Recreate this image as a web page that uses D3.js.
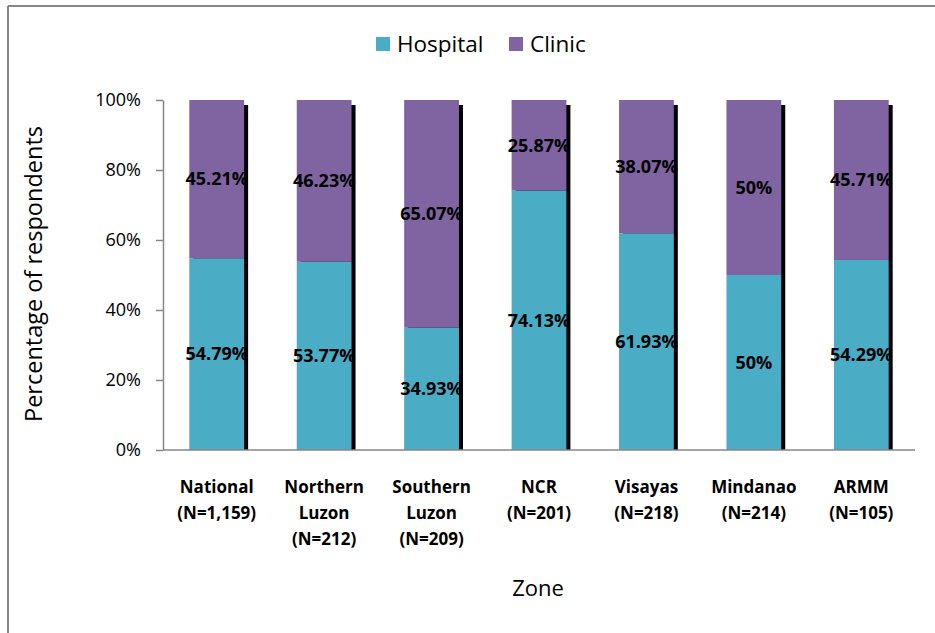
<!DOCTYPE html>
<html>
<head>
<meta charset="utf-8">
<script src="https://cdn.jsdelivr.net/npm/d3@7"></script>
<style>
  body { margin: 0; background: #fff; }
  svg { display: block; font-family: "Open Sans", sans-serif; }
</style>
</head>
<body>
<svg width="935" height="633"></svg>
<script>
"use strict";

// zones, each with its sample size on the second label line
const zones = ["National", "Northern Luzon", "Southern Luzon", "NCR", "Visayas", "Mindanao", "ARMM"];
const zoneLines = [
  ["National", "(N=1,159)"],
  ["Northern", "Luzon", "(N=212)"],
  ["Southern", "Luzon", "(N=209)"],
  ["NCR", "(N=201)"],
  ["Visayas", "(N=218)"],
  ["Mindanao", "(N=214)"],
  ["ARMM", "(N=105)"]
];
const hospital = [54.79, 53.77, 34.93, 74.13, 61.93, 50, 54.29];
const clinic = [45.21, 46.23, 65.07, 25.87, 38.07, 50, 45.71];
const seriesNames = ["Hospital", "Clinic"];
const seriesColors = ["#4bacc6", "#8064a2"];
const yTicks = [0, 20, 40, 60, 80, 100];

var svg = d3.select("svg"),
    width = +svg.attr("width"),
    height = +svg.attr("height");

// outer frame (only top and left edges are visible)
svg.append("line").attr("x1", 8).attr("x2", width).attr("y1", 6).attr("y2", 6)
    .attr("stroke", "#878787").attr("stroke-width", 2);
svg.append("line").attr("x1", 8).attr("x2", 8).attr("y1", 6).attr("y2", height)
    .attr("stroke", "#878787").attr("stroke-width", 2);

var margin = {left: 163, right: 20, top: 100, bottom: 183};

var x = d3.scaleBand()
    .domain(zones)
    .range([margin.left, width - margin.right])
    .paddingInner(0.49)
    .paddingOuter(0.245);

var y = d3.scaleLinear()
    .domain([0, 100])
    .range([height - margin.bottom, margin.top]);

var data = zones.map(function(z, i) {
  return {zone: z, Hospital: hospital[i], Clinic: clinic[i]};
});
var stacked = d3.stack().keys(seriesNames)(data);

// black shadow behind each bar
svg.append("g").selectAll("rect")
    .data(data)
    .enter().append("rect")
    .attr("x", function(d) { return x(d.zone) + 4; })
    .attr("y", y(100) + 5)
    .attr("width", x.bandwidth())
    .attr("height", y(0) - y(100) - 5)
    .attr("fill", "#000");

var layers = svg.append("g").selectAll("g")
    .data(stacked)
    .enter().append("g")
    .attr("fill", function(d, i) { return seriesColors[i]; });

layers.selectAll("rect")
    .data(function(d) { return d; })
    .enter().append("rect")
    .attr("x", function(d) { return x(d.data.zone); })
    .attr("y", function(d) { return y(d[1]); })
    .attr("width", x.bandwidth())
    .attr("height", function(d) { return y(d[0]) - y(d[1]); });

// value labels
layers.selectAll("text")
    .data(function(d) { return d.map(function(v) { return {v: v, key: d.key}; }); })
    .enter().append("text")
    .attr("x", function(d) { return x(d.v.data.zone) + x.bandwidth() / 2; })
    .attr("y", function(d) { return (y(d.v[0]) + y(d.v[1])) / 2; })
    .attr("dy", "0.35em")
    .attr("text-anchor", "middle")
    .attr("fill", "#000")
    .style("font-weight", "bold")
    .style("font-size", "18px")
    .text(function(d) { return d.v.data[d.key] + "%"; });

// y axis
var yAxis = svg.append("g")
    .attr("transform", "translate(" + margin.left + ",0)")
    .call(d3.axisLeft(y).tickValues(yTicks).tickSize(7).tickSizeOuter(0)
      .tickFormat(function(d) { return d + "%"; }));
yAxis.select(".domain").attr("stroke", "#868686").attr("stroke-width", 1.5);
yAxis.selectAll(".tick line").attr("stroke", "#868686").attr("stroke-width", 1.5);
yAxis.selectAll(".tick text")
    .attr("x", -22)
    .style("font-size", "18px")
    .style("font-family", "'Open Sans', sans-serif")
    .attr("fill", "#000");

// x axis baseline
svg.append("line")
    .attr("x1", margin.left).attr("x2", width - margin.right)
    .attr("y1", y(0)).attr("y2", y(0))
    .attr("stroke", "#868686").attr("stroke-width", 1.5);

// category labels
var xl = svg.append("g").selectAll("text")
    .data(zones)
    .enter().append("text")
    .attr("text-anchor", "middle")
    .style("font-weight", "bold")
    .style("font-size", "17px")
    .attr("x", function(d) { return x(d) + x.bandwidth() / 2; })
    .attr("y", 493);
xl.selectAll("tspan")
    .data(function(d, i) { return zoneLines[i]; })
    .enter().append("tspan")
    .attr("x", function() { return d3.select(this.parentNode).attr("x"); })
    .attr("dy", function(d, i) { return i ? 26 : 0; })
    .text(function(d) { return d; });

// axis titles
svg.append("text")
    .attr("x", 538).attr("y", 596)
    .attr("text-anchor", "middle")
    .style("font-size", "22px")
    .text("Zone");

svg.append("text")
    .attr("transform", "translate(42,274) rotate(-90)")
    .attr("text-anchor", "middle")
    .style("font-size", "23.5px")
    .text("Percentage of respondents");

// legend
var legend = svg.append("g").selectAll("g")
    .data(seriesNames)
    .enter().append("g")
    .attr("transform", function(d, i) { return "translate(" + [376, 509][i] + ",37)"; });
legend.append("rect")
    .attr("width", 14).attr("height", 14)
    .attr("fill", function(d, i) { return seriesColors[i]; });
legend.append("text")
    .attr("x", 21).attr("y", 7).attr("dy", "0.35em")
    .style("font-size", "22.5px")
    .text(function(d) { return d; });
</script>
</body>
</html>
